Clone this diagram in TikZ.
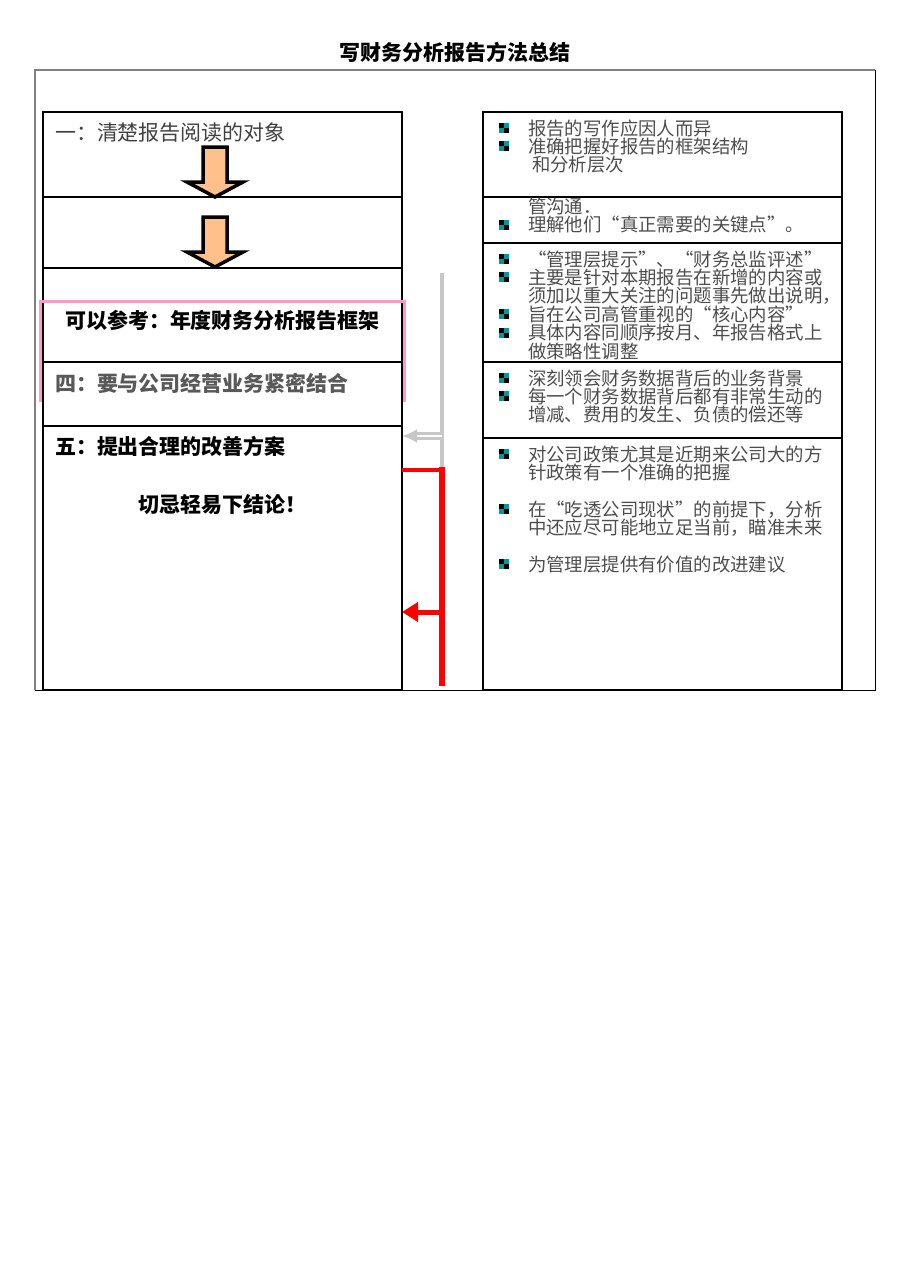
\documentclass[tikz,border=0pt]{standalone}
\usepackage{fontspec}
\setmainfont{Noto Sans CJK SC}
\newfontfamily\cjkfw{Noto Sans CJK SC}[RawFeature=+fwid]
\usetikzlibrary{arrows.meta,positioning}
\definecolor{peach}{HTML}{FFC08C}
\definecolor{bullteal}{HTML}{009999}
\definecolor{pinkline}{HTML}{FF99CC}
\definecolor{textgray}{HTML}{4D4D4D}

\begin{document}
\begin{tikzpicture}[x=1pt,y=-1pt,
                    every node/.style={inner sep=0pt,outer sep=0pt},
                    box/.style={draw,line width=1.3pt,minimum width=359pt},
                    downarrow/.style={draw,line width=3.5pt,fill=peach},
                    headline/.style={font=\fontsize{21}{21}\selectfont,text height=18pt,text depth=4pt},
                    boldhead/.style={headline,font=\bfseries\fontsize{21}{21}\selectfont},
                    itemline/.style={font=\cjkfw\fontsize{18.4}{18.4}\selectfont,text=textgray,
                                     text height=16.2pt,text depth=2.2pt},
                    nextline/.style={below=0pt of #1.south west,anchor=north west},
                    gapline/.style={below=18.4pt of #1.south west,anchor=north west},
                    bullet/.style={minimum size=10pt,fill=bullteal,
                                   path picture={\fill[black] (path picture bounding box.north west) rectangle (path picture bounding box.center);
                                                 \fill[black] (path picture bounding box.center) rectangle (path picture bounding box.south east);}},
                    redline/.style={draw=red},
                    grayline/.style={draw=black!22}]

\useasboundingbox (0,0) rectangle (909,1286);

\node[font=\bfseries\fontsize{21}{21}\selectfont] (title) at (455,52) {写财务分析报告方法总结};

% outer frame
\draw[black!50,line width=1.3pt] (35,690) -- (35,70) -- (875,70);
\draw[line width=1pt] (875,70) -- (875,690) -- (35,690);

% left column
\node[box,minimum height=85pt] (l1) at (222.5,154.5) {};
\node[box,minimum height=71pt,below=0pt of l1] (l2) {};
\node[box,minimum height=94pt,below=0pt of l2] (l3) {};
\node[box,minimum height=64pt,below=0pt of l3] (l4) {};
\node[box,minimum height=264pt,below=0pt of l4] (l5) {};

\draw[pinkline,line width=3pt] (40,402) -- (40,301) -- (404,301) -- (404,402);

\foreach \y in {147,217}
  \draw[downarrow] (203,\y) -- ++(24,0) -- ++(0,35) -- ++(16,0) -- ++(-28,15) -- ++(-28,-15) -- ++(16,0) -- cycle;

\node[headline,text=black!75,below right=10pt and 12pt of l1.north west] (l1t) {一：清楚报告阅读的对象};
\node[boldhead] (l3t) at (222.5,321) {可以参考：年度财务分析报告框架};
\node[boldhead,text=black!65,below right=11pt and 12pt of l4.north west] (l4t) {四：要与公司经营业务紧密结合};
\node[boldhead,below right=10pt and 12pt of l5.north west] (l5t) {五：提出合理的改善方案};
\node[boldhead,below=68pt of l5.north] (l5w) {切忌轻易下结论！};

% right column
\node[box,minimum height=85pt] (r1) at (662.5,154.5) {};
\node[box,minimum height=46pt,below=0pt of r1] (r2) {};
\node[box,minimum height=119pt,below=0pt of r2] (r3) {};
\node[box,minimum height=76pt,below=0pt of r3] (r4) {};
\node[box,minimum height=252pt,below=0pt of r4] (r5) {};

\node[itemline,below right=6.8pt and 45pt of r1.north west] (r1a) {报告的写作应因人而异};
\node[itemline,nextline=r1a] (r1b) {准确把握好报告的框架结构};
\node[itemline,nextline=r1b,xshift=4pt] (r1c) {和分析层次};

\node[itemline,below right=0pt and 45pt of r2.north west] (r2a) {管沟通.};
\node[itemline,nextline=r2a] (r2b) {理解他们“真正需要的关键点”。};

\node[itemline,below right=6.8pt and 45pt of r3.north west] (r3a) {“管理层提示”、“财务总监评述”};
\node[itemline,nextline=r3a] (r3b) {主要是针对本期报告在新增的内容或};
\node[itemline,nextline=r3b] (r3c) {须加以重大关注的问题事先做出说明，};
\node[itemline,nextline=r3c] (r3d) {旨在公司高管重视的“核心内容”};
\node[itemline,nextline=r3d] (r3e) {具体内容同顺序按月、年报告格式上};
\node[itemline,nextline=r3e] (r3f) {做策略性调整};

\node[itemline,below right=6.8pt and 45pt of r4.north west] (r4a) {深刻领会财务数据背后的业务背景};
\node[itemline,nextline=r4a] (r4b) {每一个财务数据背后都有非常生动的};
\node[itemline,nextline=r4b] (r4c) {增减、费用的发生、负债的偿还等};

\node[itemline,below right=6.8pt and 45pt of r5.north west] (r5a) {对公司政策尤其是近期来公司大的方};
\node[itemline,nextline=r5a] (r5b) {针政策有一个准确的把握};
\node[itemline,gapline=r5b] (r5c) {在“吃透公司现状”的前提下，分析};
\node[itemline,nextline=r5c] (r5d) {中还应尽可能地立足当前，瞄准未来};
\node[itemline,gapline=r5d] (r5e) {为管理层提供有价值的改进建议};

\foreach \n in {r1a,r1b,r2b,r3a,r3b,r3d,r3e,r4a,r4b,r5a,r5c,r5e}
  \node[bullet,left=19pt of \n.west] (b-\n) {};

% connectors
\coordinate (gtop) at (442,273);
\coordinate (gbot) at (442,470);
\coordinate (gmid) at (442,436);
\coordinate (rmid) at (442,612);
\coordinate (rbot) at (442,683);

\draw[grayline,line width=3.5pt] (gtop) -- (gbot);
\draw[grayline,double=white,double distance=2pt,line width=2.6pt,-{Latex[length=15pt,width=14pt]}] (gmid) -- (l5.east |- gmid);

\draw[redline,line width=4pt] (l5.east |- gbot) -- (gbot);
\draw[redline,line width=6pt,line cap=rect] (gbot) -- (rbot);
\draw[redline,line width=5pt,-{Triangle[length=16pt,width=19pt]}] (rmid) -- (l5.east |- rmid);

\end{tikzpicture}
\end{document}
